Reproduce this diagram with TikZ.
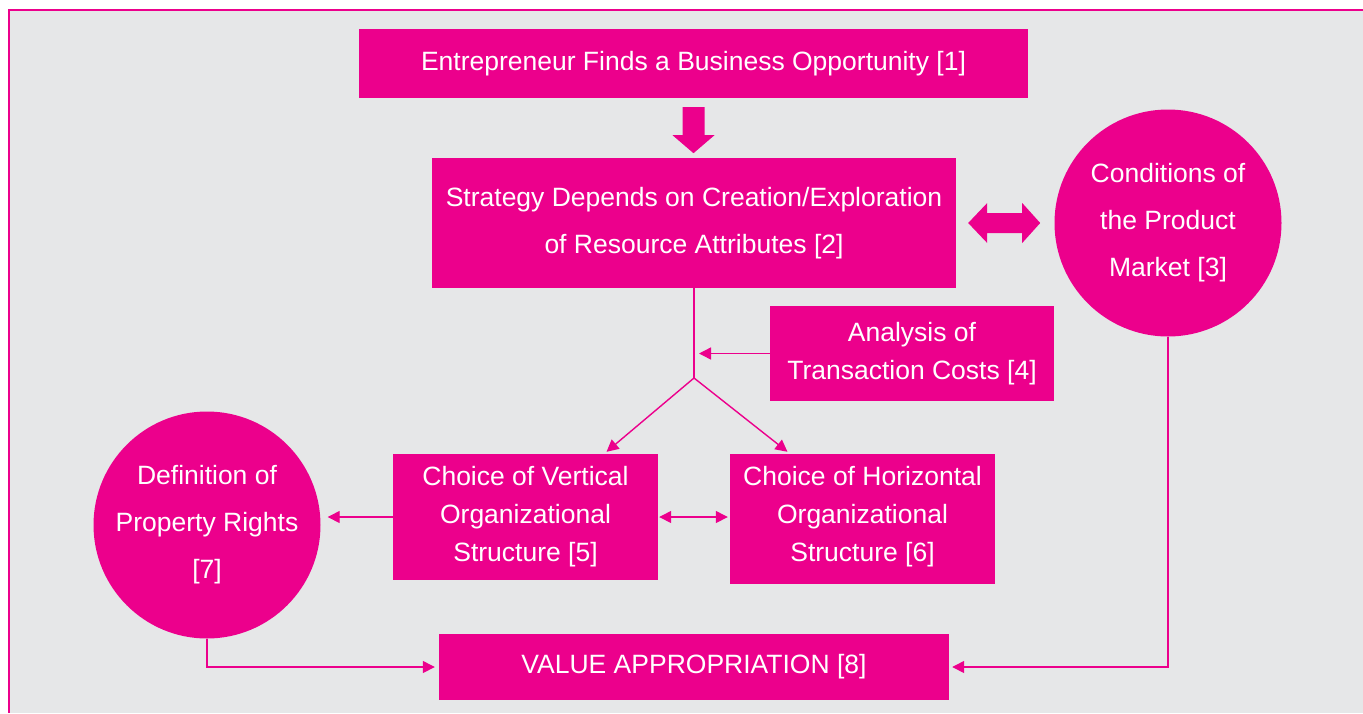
\documentclass[tikz,border=0pt]{standalone}
\usepackage{fontspec}
\setmainfont{Liberation Sans}
\usetikzlibrary{arrows.meta,calc}
\definecolor{mag}{HTML}{EC008C}
\definecolor{panel}{HTML}{E6E7E8}
\begin{document}
\begin{tikzpicture}[x=1pt,y=-1pt,
  box/.style={fill=mag,draw=none,text=white,inner sep=0pt,align=center},
  rbox/.style={box,rectangle},
  rnd/.style={box,circle,minimum size=227pt},
  txtwide/.style={font=\fontsize{26.5}{47}\selectfont},
  txtnarrow/.style={font=\fontsize{26.5}{38}\selectfont},
  link/.style={draw=mag,line width=1.4pt,-{Triangle[length=12pt,width=12pt]}},
  linkboth/.style={draw=mag,line width=1.4pt,{Triangle[length=12pt,width=12pt]}-{Triangle[length=12pt,width=12pt]}},
  plainlink/.style={draw=mag,line width=1.4pt},
  blockfill/.style={fill=mag}]

\useasboundingbox (0,0) rectangle (1363,713);
% panel with its frame
\fill[white] (0,0) rectangle (1363,713);
\fill[panel] (9,10) rectangle (1363,713);
\draw[mag,line width=1.6pt] (9,713) -- (9,10) -- (1363,10);

% boxes and circles
\node[rbox,txtwide,minimum width=669pt,minimum height=69pt] (b1) at (693.5,63.5)
  {Entrepreneur Finds a Business Opportunity [1]};
\node[rbox,txtwide,minimum width=524pt,minimum height=130pt] (b2) at (694,223)
  {Strategy Depends on Creation/Exploration\\of Resource Attributes [2]};
\node[rnd,txtwide] (c3) at (1168,223)
  {Conditions of\\the Product\\Market [3]};
\node[rbox,txtnarrow,minimum width=284pt,minimum height=95pt] (b4) at (912,353.5)
  {Analysis of\\Transaction Costs [4]};
\node[rbox,txtnarrow,minimum width=265pt,minimum height=126pt] (b5) at (525.5,517)
  {Choice of Vertical\\Organizational\\Structure [5]};
\node[rbox,txtnarrow,minimum width=265pt,minimum height=130pt,
  text depth=10pt] (b6) at (862.5,519)
  {Choice of Horizontal\\Organizational\\Structure [6]};
\node[rnd,txtwide] (c7) at (207,525)
  {Definition of\\Property Rights\\{[7]}};
\node[rbox,txtwide,minimum width=510pt,minimum height=66pt] (b8) at (694,667)
  {VALUE APPROPRIATION [8]};

% block arrow from [1] to [2]
\coordinate (dtop) at ([yshift=-9pt]b1.south);
\fill[blockfill] (dtop) ++(-11,0) -- ++(22,0) -- ++(0,28) -- ++(10,0)
  -- ++(-21,18) -- ++(-21,-18) -- ++(10,0) -- cycle;

% double block arrow between [2] and [3]
\coordinate (dleft) at ([xshift=12pt]b2.east);
\fill[blockfill] (dleft) -- ++(19,-20) -- ++(0,10) -- ++(35,0) -- ++(0,-10)
  -- ++(18,20) -- ++(-18,20) -- ++(0,-10) -- ++(-35,0) -- ++(0,10) -- cycle;

% branching from [2] into [5] and [6]
\coordinate (j) at (694,378);
\draw[plainlink] (b2.south) -- (j);
\draw[link] (b4.west) -- ([xshift=5pt]j |- b4.west);
\draw[link] (j) -- ([xshift=81pt,yshift=2pt]b5.north);
\draw[link] (j) -- ([xshift=-75pt,yshift=2pt]b6.north);

% links between the structures and to [7]
\draw[linkboth] ([xshift=1pt]b5.east) -- ([xshift=-2pt]b5.east -| b6.west);
\draw[link] (b5.west) -- ([xshift=7pt]b5.west -| c7.east);

% links into [8]
\draw[link] (c7.south) |- ([xshift=-4pt]b8.west);
\draw[link] (c3.south) |- ([xshift=3pt]b8.east);
\end{tikzpicture}
\end{document}
